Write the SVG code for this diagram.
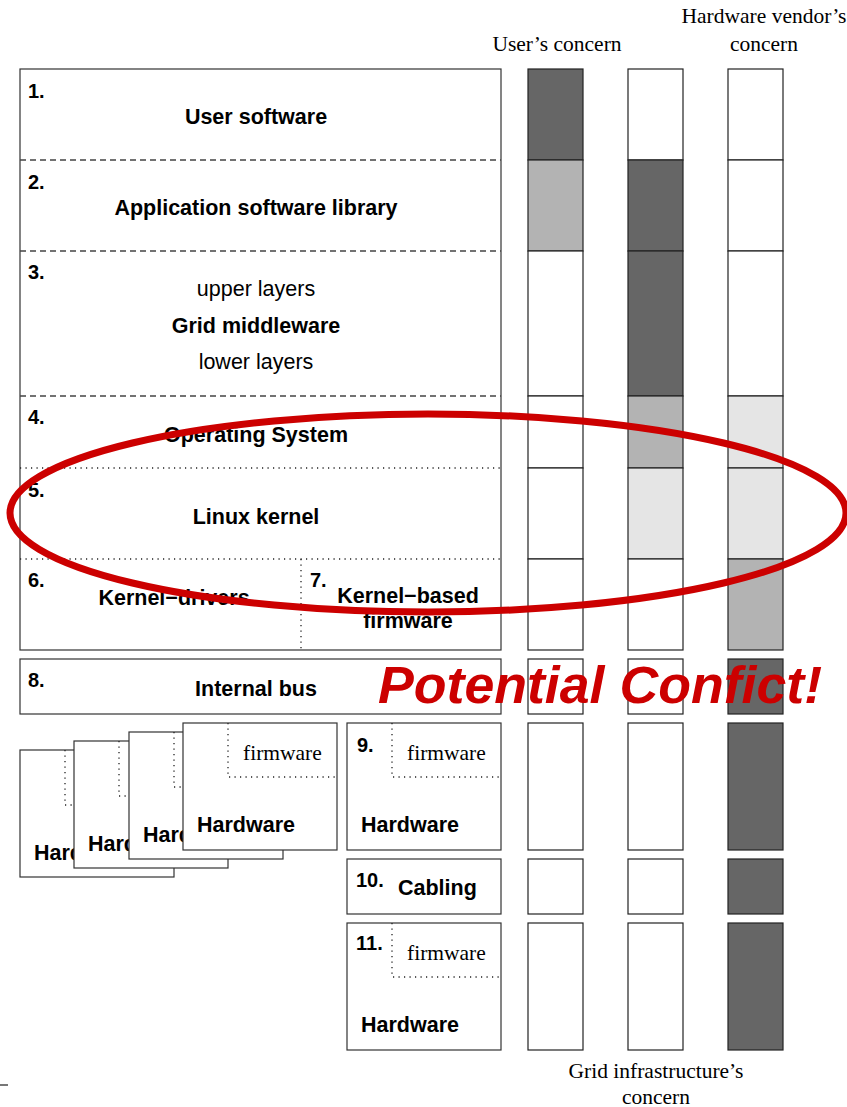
<svg xmlns="http://www.w3.org/2000/svg" width="847" height="1107" viewBox="0 0 847 1107">
  <style>
    .frame { fill: #fff; stroke: #333; stroke-width: 1.2; }
    .cell { stroke: #222; stroke-width: 1.2; }
    .w { fill: #fff; }
    .d { fill: #666; }
    .m { fill: #b3b3b3; }
    .l { fill: #e5e5e5; }
    .dash { stroke: #444; stroke-width: 1.3; stroke-dasharray: 6 4; fill: none; }
    .dot { stroke: #222; stroke-width: 1.3; stroke-dasharray: 1.2 4.3; fill: none; }
    .b { font-family: "Liberation Sans", Arial, sans-serif; font-weight: bold; font-size: 21.5px; fill: #000; }
    .n { font-family: "Liberation Sans", Arial, sans-serif; font-weight: bold; font-size: 20px; fill: #000; }
    .s { font-family: "Liberation Sans", Arial, sans-serif; font-size: 21.5px; fill: #000; }
    .r { font-family: "Liberation Serif", "Times New Roman", serif; font-size: 21.5px; fill: #000; }
    .c { text-anchor: middle; }
  </style>

  <!-- column headings -->
  <g id="headings">
    <text class="r c" x="557" y="51">User’s concern</text>
    <text class="r c" x="764" y="23">Hardware vendor’s</text>
    <text class="r c" x="764" y="51">concern</text>
    <text class="r c" x="656" y="1078">Grid infrastructure’s</text>
    <text class="r c" x="656" y="1104">concern</text>
  </g>

  <!-- software stack, layers 1-7 -->
  <g id="stack">
    <rect class="frame" x="20" y="69" width="481" height="581"/>
    <line class="dash" x1="20" y1="160" x2="501" y2="160"/>
    <line class="dash" x1="20" y1="251" x2="501" y2="251"/>
    <line class="dash" x1="20" y1="396" x2="501" y2="396"/>
    <line class="dot" x1="20" y1="468" x2="501" y2="468"/>
    <line class="dot" x1="20" y1="559" x2="501" y2="559"/>
    <line class="dot" x1="301" y1="559" x2="301" y2="650"/>
  </g>
  <g id="layer1">
    <text class="n" x="28" y="98">1.</text>
    <text class="b c" x="256" y="124">User software</text>
  </g>
  <g id="layer2">
    <text class="n" x="28" y="189">2.</text>
    <text class="b c" x="256" y="215">Application software library</text>
  </g>
  <g id="layer3">
    <text class="n" x="28" y="279">3.</text>
    <text class="s c" x="256" y="296">upper layers</text>
    <text class="b c" x="256" y="333">Grid middleware</text>
    <text class="s c" x="256" y="369">lower layers</text>
  </g>
  <g id="layer4">
    <text class="n" x="28" y="424">4.</text>
    <text class="b c" x="256" y="442">Operating System</text>
  </g>
  <g id="layer5">
    <text class="n" x="28" y="497">5.</text>
    <text class="b c" x="256" y="524">Linux kernel</text>
  </g>
  <g id="layer6">
    <text class="n" x="28" y="587">6.</text>
    <text class="b c" x="174" y="605">Kernel−drivers</text>
  </g>
  <g id="layer7">
    <text class="n" x="310" y="587">7.</text>
    <text class="b c" x="408" y="603">Kernel−based</text>
    <text class="b c" x="408" y="628">firmware</text>
  </g>

  <!-- layer 8 -->
  <g id="layer8">
    <rect class="frame" x="20" y="659" width="481" height="55"/>
    <text class="n" x="28" y="687">8.</text>
    <text class="b c" x="256" y="696">Internal bus</text>
  </g>

  <!-- stacked hardware cards -->
  <g id="hardware-cards">
    <rect class="frame" x="20" y="750" width="154" height="127"/>
    <path class="dot" d="M65 750 V805 H174"/>
    <text class="b" x="34" y="860">Hardware</text>
    <rect class="frame" x="74" y="741" width="154" height="127"/>
    <path class="dot" d="M119 741 V796 H228"/>
    <text class="b" x="88" y="851">Hardware</text>
    <rect class="frame" x="129" y="732" width="154" height="127"/>
    <path class="dot" d="M174 732 V787 H283"/>
    <text class="b" x="143" y="842">Hardware</text>
    <rect class="frame" x="183" y="723" width="154" height="127"/>
    <path class="dot" d="M228 723 V777 H337"/>
    <text class="r" x="243" y="760">firmware</text>
    <text class="b" x="197" y="832">Hardware</text>
  </g>

  <g id="layer9">
    <rect class="frame" x="347" y="723" width="154" height="127"/>
    <path class="dot" d="M392 723 V777 H501"/>
    <text class="n" x="357" y="752">9.</text>
    <text class="r" x="407" y="760">firmware</text>
    <text class="b" x="361" y="832">Hardware</text>
  </g>
  <g id="layer10">
    <rect class="frame" x="347" y="859" width="154" height="55"/>
    <text class="n" x="356" y="887">10.</text>
    <text class="b" x="398" y="895">Cabling</text>
  </g>
  <g id="layer11">
    <rect class="frame" x="347" y="923" width="154" height="127"/>
    <path class="dot" d="M392 923 V977 H501"/>
    <text class="n" x="356" y="950">11.</text>
    <text class="r" x="407" y="960">firmware</text>
    <text class="b" x="361" y="1032">Hardware</text>
  </g>

  <!-- concern columns: user / grid infrastructure / hardware vendor -->
  <g id="col-user">
    <rect class="cell d" x="528" y="69" width="55" height="91"/>
    <rect class="cell m" x="528" y="160" width="55" height="91"/>
    <rect class="cell w" x="528" y="251" width="55" height="145"/>
    <rect class="cell w" x="528" y="396" width="55" height="72"/>
    <rect class="cell w" x="528" y="468" width="55" height="91"/>
    <rect class="cell w" x="528" y="559" width="55" height="91"/>
    <rect class="cell w" x="528" y="659" width="55" height="55"/>
    <rect class="cell w" x="528" y="723" width="55" height="127"/>
    <rect class="cell w" x="528" y="859" width="55" height="55"/>
    <rect class="cell w" x="528" y="923" width="55" height="127"/>
  </g>
  <g id="col-grid">
    <rect class="cell w" x="628" y="69" width="55" height="91"/>
    <rect class="cell d" x="628" y="160" width="55" height="91"/>
    <rect class="cell d" x="628" y="251" width="55" height="145"/>
    <rect class="cell m" x="628" y="396" width="55" height="72"/>
    <rect class="cell l" x="628" y="468" width="55" height="91"/>
    <rect class="cell w" x="628" y="559" width="55" height="91"/>
    <rect class="cell w" x="628" y="659" width="55" height="55"/>
    <rect class="cell w" x="628" y="723" width="55" height="127"/>
    <rect class="cell w" x="628" y="859" width="55" height="55"/>
    <rect class="cell w" x="628" y="923" width="55" height="127"/>
  </g>
  <g id="col-vendor">
    <rect class="cell w" x="728" y="69" width="55" height="91"/>
    <rect class="cell w" x="728" y="160" width="55" height="91"/>
    <rect class="cell w" x="728" y="251" width="55" height="145"/>
    <rect class="cell l" x="728" y="396" width="55" height="72"/>
    <rect class="cell l" x="728" y="468" width="55" height="91"/>
    <rect class="cell m" x="728" y="559" width="55" height="91"/>
    <rect class="cell d" x="728" y="659" width="55" height="55"/>
    <rect class="cell d" x="728" y="723" width="55" height="127"/>
    <rect class="cell d" x="728" y="859" width="55" height="55"/>
    <rect class="cell d" x="728" y="923" width="55" height="127"/>
  </g>

  <!-- highlight of the kernel region -->
  <g id="conflict">
    <ellipse cx="428" cy="513" rx="418" ry="99" fill="none" stroke="#cc0000" stroke-width="7"/>
    <text x="378" y="703" textLength="444" lengthAdjust="spacingAndGlyphs" font-family="Liberation Sans, Arial, sans-serif" font-weight="bold" font-style="italic" font-size="51" fill="#cc0000">Potential Confict!</text>
  </g>

  <line x1="0" y1="1085" x2="8" y2="1085" stroke="#777" stroke-width="2"/>
</svg>
